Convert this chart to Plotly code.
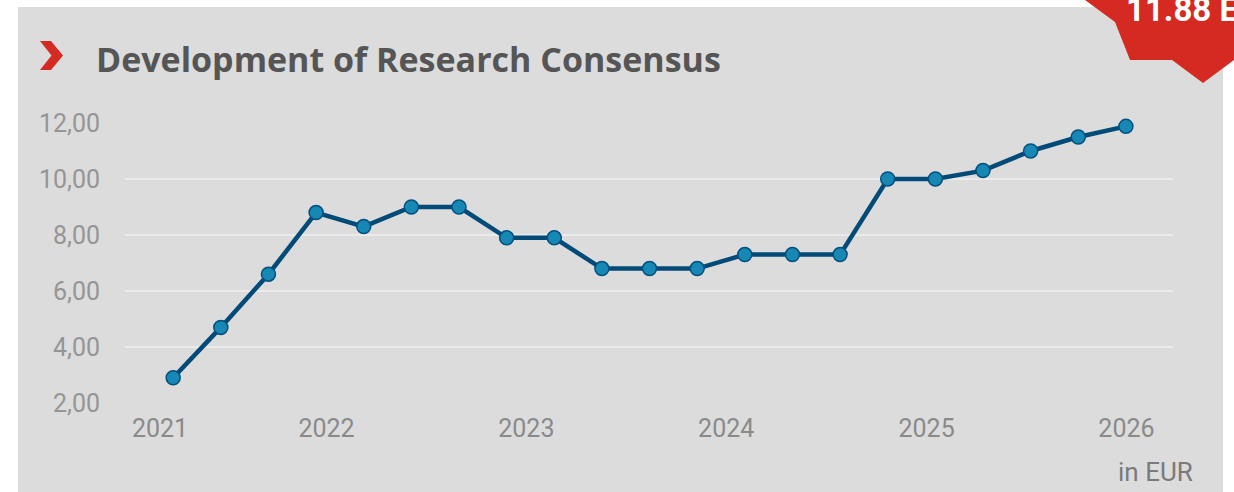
import plotly.graph_objects as go

# ---- data ----
dates = ["2021-03-27", "2021-06-22", "2021-09-17", "2021-12-13", "2022-03-10",
         "2022-06-05", "2022-08-31", "2022-11-26", "2023-02-21", "2023-05-19",
         "2023-08-14", "2023-11-09", "2024-02-04", "2024-05-01", "2024-07-27",
         "2024-10-22", "2025-01-17", "2025-04-14", "2025-07-10", "2025-10-05",
         "2025-12-31"]
consensus = [2.90, 4.70, 6.60, 8.80, 8.30, 9.00, 9.00, 7.90, 7.90, 6.80,
             6.80, 6.80, 7.30, 7.30, 7.30, 10.00, 10.00, 10.30, 11.00, 11.50,
             11.88]
year_tick_dates = ["2021-03-03", "2022-01-01", "2023-01-01", "2024-01-01",
                   "2025-01-01", "2026-01-01"]
year_tick_labels = ["2021", "2022", "2023", "2024", "2025", "2026"]
y_ticks = [2, 4, 6, 8, 10, 12]
title_text = "Development of Research Consensus"
badge_text = "11.88 EUR"
unit_text = "in EUR"

W, H = 1234, 492
L, R, T, B = 125, 1173, 123, 403


def px(x):
    return (x - L) / (R - L)


def py(y):
    return (B - y) / (B - T)


def path(points):
    return "M " + " L ".join(f"{px(a):.5f},{py(b):.5f}" for a, b in points) + " Z"


fig = go.Figure()
fig.add_trace(go.Scatter(
    x=dates, y=consensus, mode="lines+markers",
    line=dict(color="#024b78", width=4.5),
    marker=dict(size=14, color="#1787b4", line=dict(color="#02507f", width=1.5)),
    cliponaxis=False, hoverinfo="skip", showlegend=False,
))

shapes = [
    # grey panel
    dict(type="rect", xref="paper", yref="paper", layer="below",
         x0=px(18), x1=px(1223), y0=py(492), y1=py(7),
         fillcolor="#dcdcdc", line=dict(width=0)),
    # red chevron
    dict(type="path", xref="paper", yref="paper", layer="above",
         path=path([(40, 41), (51, 41), (63, 55.5), (51, 70), (40, 70), (51.5, 55.5)]),
         fillcolor="#d52a22", line=dict(width=0)),
    # red badge
    dict(type="path", xref="paper", yref="paper", layer="above",
         path=path([(1085, 0), (1115, 22), (1130, 60), (1172, 60), (1203, 83),
                    (1234, 60), (1234, 0)]),
         fillcolor="#d52a22", line=dict(width=0)),
]

annotations = [
    dict(text=title_text, xref="paper", yref="paper", x=px(94), y=py(59),
         xanchor="left", yanchor="middle", showarrow=False,
         font=dict(family="Open Sans", size=34, color="#555555", weight="bold")),
    dict(text=badge_text, xref="paper", yref="paper", x=px(1124), y=py(31),
         xanchor="left", yanchor="bottom", showarrow=False,
         font=dict(family="Roboto", size=33, color="#ffffff", weight="bold")),
    dict(text=unit_text, xref="paper", yref="paper", x=px(1195), y=py(472),
         xanchor="right", yanchor="middle", showarrow=False,
         font=dict(family="Roboto", size=26, color="#7a7a7a")),
]

fig.update_layout(
    width=W, height=H,
    margin=dict(l=L, r=W - R, t=T, b=H - B, pad=0),
    paper_bgcolor="#ffffff", plot_bgcolor="rgba(0,0,0,0)",
    separators=",.",
    shapes=shapes, annotations=annotations,
    xaxis=dict(type="date", range=["2020-12-29", "2026-03-27"],
               tickvals=year_tick_dates, ticktext=year_tick_labels,
               showgrid=False, zeroline=False, showline=False, ticks="",
               ticklabelstandoff=8,
               tickfont=dict(family="Roboto", size=25, color="#8a8a8a")),
    yaxis=dict(range=[2, 12], tickvals=y_ticks, tickformat=".2f",
               showgrid=True, gridcolor="#ebebeb", gridwidth=2,
               zeroline=False, showline=False, ticks="",
               ticklabelstandoff=24,
               tickfont=dict(family="Roboto", size=25, color="#959595")),
)

fig.write_html("out.html", config={"displayModeBar": False},
               post_script="document.body.style.margin='0px';document.body.style.overflow='hidden';")
